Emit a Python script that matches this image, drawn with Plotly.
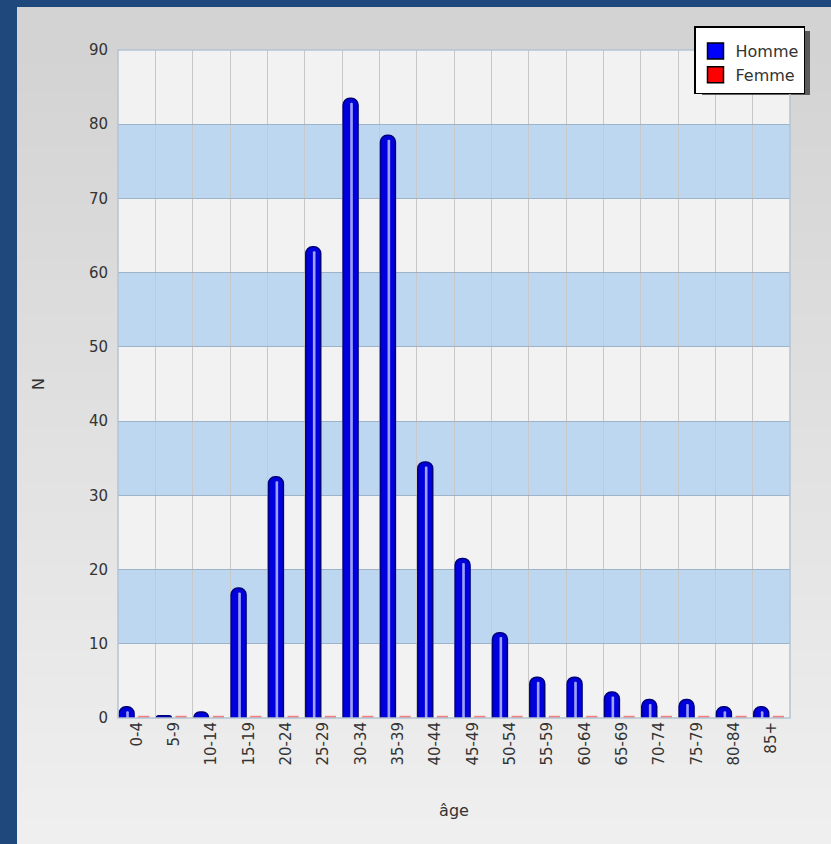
import plotly.graph_objs as go

age_groups = ["0-4", "5-9", "10-14", "15-19", "20-24", "25-29", "30-34", "35-39", "40-44",
              "45-49", "50-54", "55-59", "60-64", "65-69", "70-74", "75-79", "80-84", "85+"]
homme = [1.5, 0.3, 0.8, 17.5, 32.5, 63.5, 83.5, 78.5, 34.5, 21.5, 11.5, 5.5, 5.5, 3.5, 2.5, 2.5, 1.5, 1.5]
femme = [0.3] * 18
y_ticks = [0, 10, 20, 30, 40, 50, 60, 70, 80, 90]

W, H = 831, 844
L, R, T, B = 118, 790, 50, 718

BLUE = "#0000dc"
RED = "#ff0000"


def px_x(p):
    return (p - L) / (R - L)


def px_y(p):
    return (B - p) / (B - T)


fig = go.Figure()

fig.add_trace(go.Bar(
    x=age_groups, y=homme, name="Homme", showlegend=False,
    marker=dict(color=BLUE, line=dict(color="#00007a", width=1.5), cornerradius="45%"),
    offset=-0.47, width=0.4
))
fig.add_trace(go.Bar(
    x=age_groups, y=femme, name="Femme", showlegend=False,
    marker=dict(color="#f08080", line=dict(width=0)),
    offset=0.04, width=0.3
))
# highlight stripe on the blue "cylinders"
fig.add_trace(go.Bar(
    x=age_groups, y=[v - 0.6 if v > 1 else 0 for v in homme], showlegend=False, hoverinfo="skip",
    marker=dict(color="#a0a0ff", line=dict(width=0), cornerradius="50%"),
    offset=-0.28, width=0.07
))
# legend entries (plain squares)
for name, col in [("Homme", "#0000ff"), ("Femme", RED)]:
    fig.add_trace(go.Scatter(x=[None], y=[None], name=name, mode="markers",
                             marker=dict(symbol="square", size=16, color=col,
                                         line=dict(color="black", width=1.5))))

shapes = []
# outer panel with vertical gradient
n = 30
y0p, y1p = 7, 846
for i in range(n):
    a = y0p + (y1p - y0p) * i / n
    b = y0p + (y1p - y0p) * (i + 1) / n + 1
    g = int(211 + (239 - 211) * i / (n - 1))
    shapes.append(dict(type="rect", xref="paper", yref="paper", layer="below",
                       x0=px_x(17), x1=px_x(W + 2), y0=px_y(b), y1=px_y(a),
                       line=dict(width=0), fillcolor=f"rgb({g},{g},{g})"))
# plot background + bands
shapes.append(dict(type="rect", xref="paper", yref="paper", layer="below",
                   x0=0, x1=1, y0=0, y1=1, line=dict(width=0), fillcolor="#f2f2f2"))
for lo in [10, 30, 50, 70]:
    shapes.append(dict(type="rect", xref="paper", yref="y", layer="below",
                       x0=0, x1=1, y0=lo, y1=lo + 10, line=dict(width=0), fillcolor="#bdd7f1"))
# legend shadow
shapes.append(dict(type="rect", xref="paper", yref="paper", layer="above",
                   x0=px_x(702), x1=px_x(810), y0=px_y(95), y1=px_y(31),
                   line=dict(width=0), fillcolor="rgba(60,60,60,0.8)"))
# plot border
shapes.append(dict(type="rect", xref="paper", yref="paper", layer="above",
                   x0=0, x1=1, y0=0, y1=1, line=dict(color="#b4c4d4", width=1.5)))

fig.update_layout(
    width=W, height=H,
    margin=dict(l=L, r=W - R, t=T, b=H - B),
    paper_bgcolor="#1f487c",
    plot_bgcolor="rgba(0,0,0,0)",
    font=dict(family="DejaVu Sans", size=15, color="#333333"),
    barmode="overlay",
    shapes=shapes,
    showlegend=True,
    legend=dict(x=px_x(805), y=px_y(26), xanchor="right", yanchor="top",
                bgcolor="white", bordercolor="black", borderwidth=1.5,
                font=dict(family="DejaVu Sans", size=16, color="#333333"),
                title=dict(text=" ", font=dict(size=5)),
                itemsizing="trace", tracegroupgap=0, traceorder="normal", itemwidth=30)
)
fig.update_xaxes(
    type="category", tickson="boundaries", tickangle=-90,
    showgrid=True, gridcolor="#c8c8c8", gridwidth=1,
    ticks="", ticklen=0, zeroline=False,
    title=dict(text="âge", standoff=40, font=dict(size=16, color="#333333")),
    tickfont=dict(size=15, color="#333333"),
    range=[-0.5, 17.5]
)
fig.update_yaxes(
    range=[0, 90], tickvals=y_ticks, showgrid=True, gridcolor="#9fb3c8", gridwidth=1,
    zeroline=False, ticks="", ticklabelstandoff=9,
    title=dict(text="N", standoff=40, font=dict(size=16, color="#333333")),
    tickfont=dict(size=15, color="#333333")
)

fig.write_html("out.html", config={"displayModeBar": False},
               post_script="document.body.style.margin='0';")
